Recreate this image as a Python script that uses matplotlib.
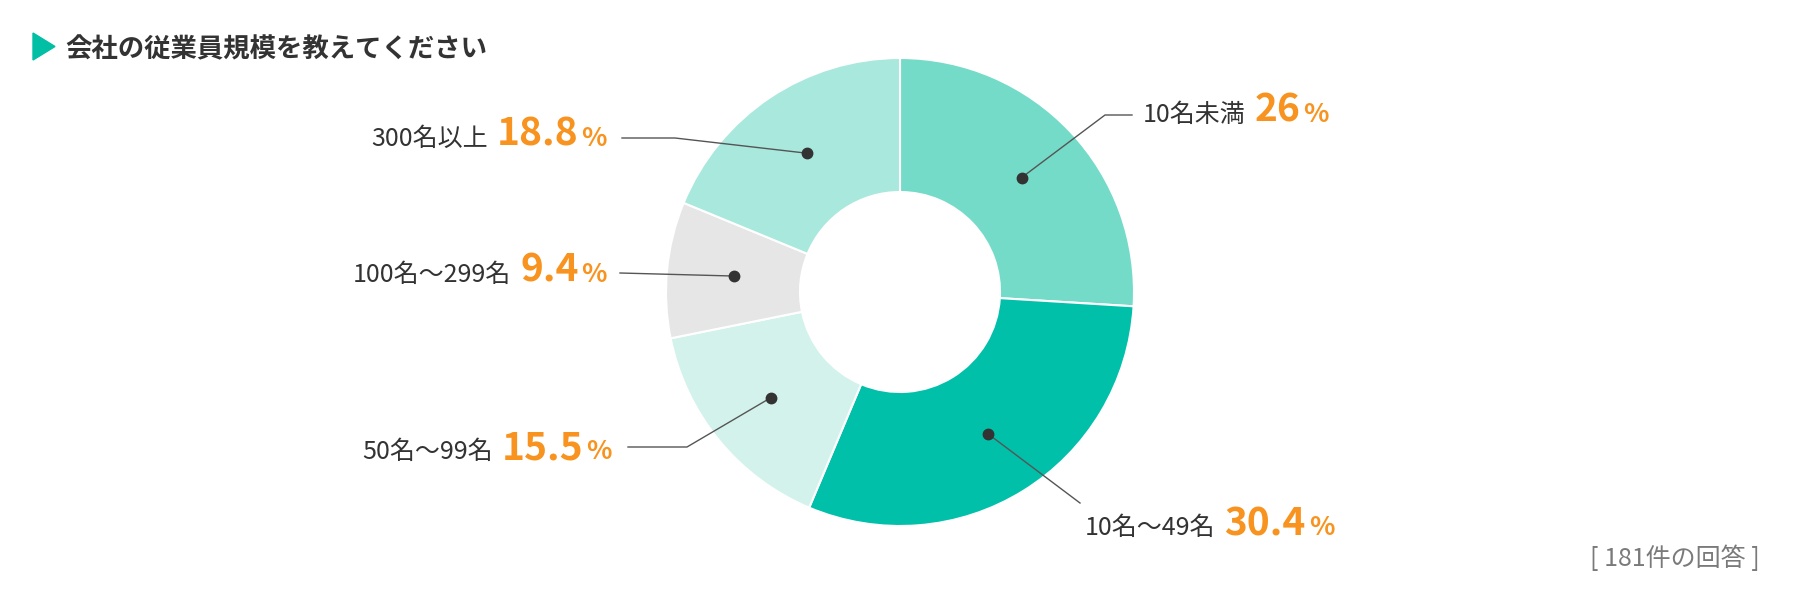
import numpy as np
import matplotlib
matplotlib.use("Agg")
import matplotlib.pyplot as plt
from matplotlib.patches import Polygon

plt.rcParams['font.family'] = ['Noto Sans CJK JP', 'DejaVu Sans']

# データ
title = "会社の従業員規模を教えてください"
categories = ["10名未満", "10名〜49名", "50名〜99名", "100名〜299名", "300名以上"]
shares = [26, 30.4, 15.5, 9.4, 18.8]
pct_labels = ["26", "30.4", "15.5", "9.4", "18.8"]
colors = ["#74dbc9", "#00c0aa", "#d3f2eb", "#e6e6e6", "#a8e8dd"]
note = "[ 181件の回答 ]"

# レイアウト (ピクセル, y は上から)
W, H = 1800, 600
CX, CY = 900, 292
R, RIN = 234, 100
# 引き出し線の折れ点, ラベルの側, ラベル x, ベースライン y
leaders = [
    ([(1105, 115), (1132, 115)], "left", 1143, 122),
    ([(1080, 503)], "left", 1085, 535),
    ([(687, 447), (628, 447)], "right", 612, 459),
    ([(620, 273)], "right", 607, 282),
    ([(675, 138), (622, 138)], "right", 607, 146),
]

TEXT = "#333333"
ORANGE = "#f7931e"


def fy(y):
    return H - y


fig = plt.figure(figsize=(18, 6), dpi=100)
ax = fig.add_axes([0, 0, 1, 1])
wedges, _ = ax.pie(shares, colors=colors, startangle=90, counterclock=False,
                   center=(CX, fy(CY)), radius=R,
                   wedgeprops=dict(width=R - RIN, edgecolor="white", linewidth=1.5))
ax.set_xlim(0, W)
ax.set_ylim(0, H)
ax.set_aspect("equal")
ax.axis("off")

renderer = fig.canvas.get_renderer()


def width(t):
    return t.get_window_extent(renderer).width


rmid = (R + RIN) / 2
for w, cat, pct, (pts, side, tx, base) in zip(wedges, categories, pct_labels, leaders):
    mid = np.radians((w.theta1 + w.theta2) / 2)
    dx = CX + rmid * np.cos(mid)
    dy = fy(CY) + rmid * np.sin(mid)
    xs = [dx] + [p[0] for p in pts]
    ys = [dy] + [fy(p[1]) for p in pts]
    ax.plot(xs, ys, color="#555555", lw=1, zorder=3)
    ax.plot(dx, dy, "o", color=TEXT, markersize=7.5, zorder=4)

    by = fy(base)
    if side == "left":
        t1 = ax.text(tx, by, cat, fontsize=18, color=TEXT, ha="left", va="baseline")
        x = tx + width(t1) + 9
        t2 = ax.text(x, by, pct, fontsize=28, fontweight="bold", color=ORANGE,
                     ha="left", va="baseline")
        x += width(t2) + 3
        ax.text(x, by, "%", fontsize=19, fontweight="bold", color=ORANGE,
                ha="left", va="baseline")
    else:
        t3 = ax.text(tx, by, "%", fontsize=19, fontweight="bold", color=ORANGE,
                     ha="right", va="baseline")
        x = tx - width(t3) - 3
        t2 = ax.text(x, by, pct, fontsize=28, fontweight="bold", color=ORANGE,
                     ha="right", va="baseline")
        x -= width(t2) + 9
        ax.text(x, by, cat, fontsize=18, color=TEXT, ha="right", va="baseline")

# タイトル
ax.add_patch(Polygon([(33, fy(33)), (33, fy(60)), (55, fy(46.5))],
                     closed=True, color="#00bfa5"))
ax.text(65, fy(57), title, fontsize=19, fontweight="bold", color=TEXT,
        ha="left", va="baseline")

ax.text(1760, fy(559), note, fontsize=18, color="#7a7a7a", ha="right", va="center")

fig.savefig("out.png", dpi=100)
